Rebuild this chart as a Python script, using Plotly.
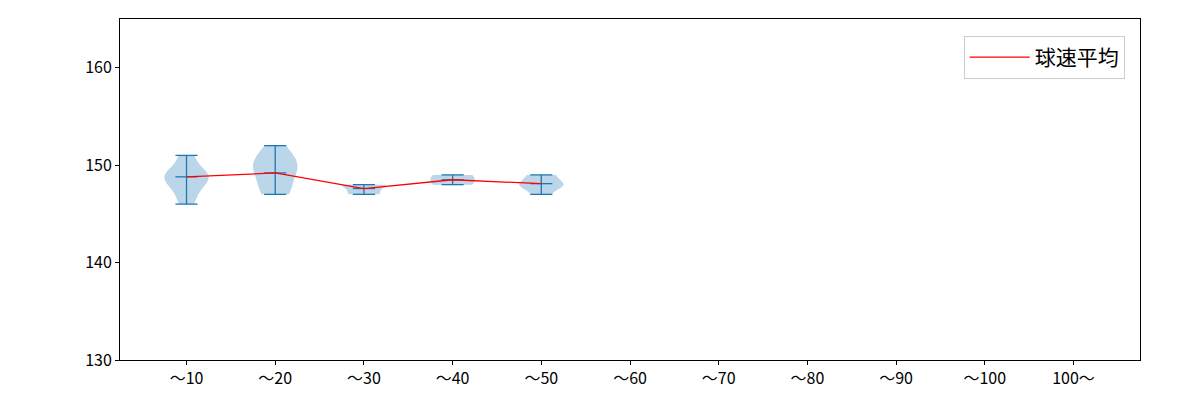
import plotly.graph_objects as go

categories = ["〜10","〜20","〜30","〜40","〜50","〜60","〜70","〜80","〜90","〜100","100〜"]
speeds = [
    [146,147,148,148,149,149,149,150,151],
    [147,147,148,149,150,150,150,151,152],
    [147,147,148,148,148],
    [148,149],
    [147,148,148,148,149,149,148,147,149,148],
]
means = [148.8, 149.2, 147.6, 148.5, 148.1]

blue = "#1f77b4"
fig = go.Figure()
cx, cy = [], []
for i, s in enumerate(speeds):
    x = i + 1
    fig.add_trace(go.Violin(x=[x]*len(s), y=s, width=0.5, scalemode="width", spanmode="hard",
                            fillcolor="rgba(31,119,180,0.3)", line=dict(width=0), points=False,
                            showlegend=False, hoverinfo="skip"))
    lo, hi, m = min(s), max(s), means[i]
    cx += [x, x, None, x-0.125, x+0.125, None, x-0.125, x+0.125, None, x-0.125, x+0.125, None]
    cy += [lo, hi, None, lo, lo, None, hi, hi, None, m, m, None]
fig.add_trace(go.Scatter(x=cx, y=cy, mode="lines", line=dict(color=blue, width=1.3), showlegend=False, hoverinfo="skip"))
fig.add_trace(go.Scatter(x=list(range(1, len(means)+1)), y=means, mode="lines", line=dict(color="red", width=1.3), name="球速平均"))

ax = dict(showgrid=False, zeroline=False, showline=True, linecolor="black", mirror=True, ticks="outside",
          tickcolor="black", ticklen=4, tickfont=dict(size=16, color="black"))
fig.update_layout(
    width=1200, height=400, margin=dict(l=112, r=68, t=11, b=48),
    plot_bgcolor="white", paper_bgcolor="white",
    font=dict(family="Noto Sans CJK JP", color="black"),
    xaxis=dict(ax, range=[0.25, 11.75], tickvals=list(range(1, 12)), ticktext=categories),
    yaxis=dict(ax, range=[130, 165], tickvals=[130, 140, 150, 160]),
    violinmode="overlay",
    legend=dict(x=0.985, y=0.95, xanchor="right", yanchor="top", bordercolor="#cccccc", borderwidth=1,
                font=dict(size=21), bgcolor="white", itemwidth=60),
)
fig.write_html("out.html")
